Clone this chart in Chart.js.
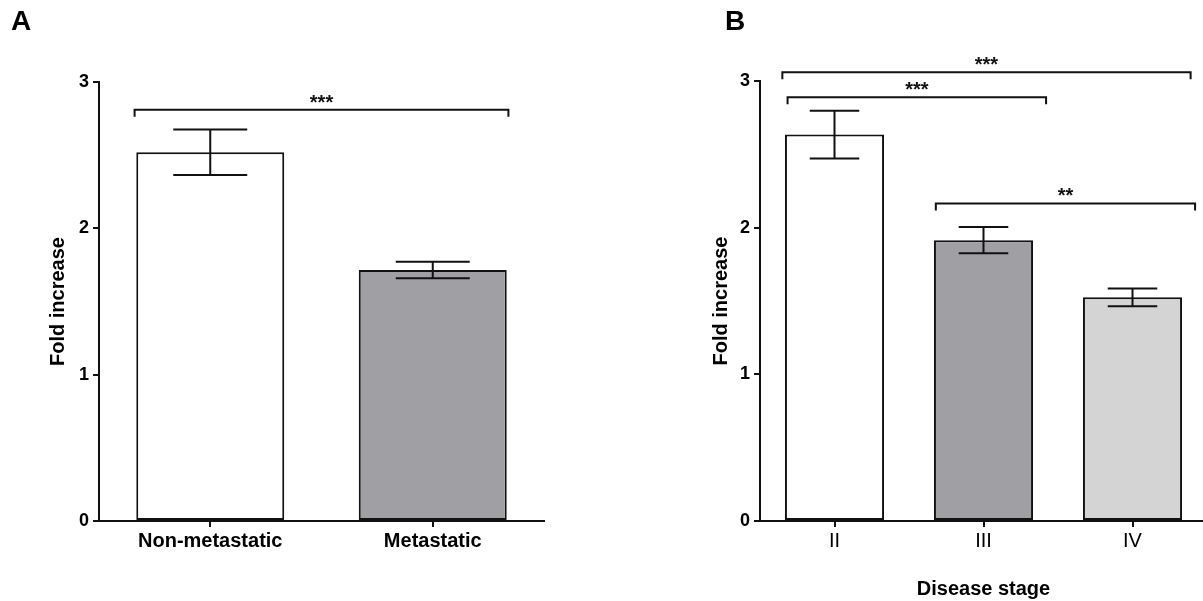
<!DOCTYPE html>
<html>
<head>
<meta charset="utf-8">
<script src="https://cdn.jsdelivr.net/npm/chart.js@4.4.1/dist/chart.umd.min.js"></script>
<style>
html, body { margin: 0; padding: 0; width: 1203px; height: 601px; overflow: hidden; background: #fff; }
canvas { position: absolute; top: 0; }
.letter { position: absolute; z-index: 2; font: bold 28px "Liberation Sans", Arial, sans-serif; line-height: 28px; color: #000; }
</style>
</head>
<body>
<canvas id="chartA" width="600" height="601" style="left:0"></canvas>
<canvas id="chartB" width="607" height="601" style="left:600px"></canvas>
<div class="letter" style="left:11px;top:7px">A</div>
<div class="letter" style="left:725px;top:7px">B</div>
<script>
// panel A: metastasis status
var labelsA = ['Non-metastatic', 'Metastatic'];
var meansA = [2.52, 1.715];
var semA = [0.155, 0.056];
var colorsA = ['#ffffff', '#a09fa4'];
// [from category, to category, y value, stars]
var bracketsA = [[-0.34, 1.34, 2.81, '***']];

// panel B: disease stage
var labelsB = ['II', 'III', 'IV'];
var meansB = [2.635, 1.915, 1.525];
var semB = [0.163, 0.09, 0.06];
var colorsB = ['#ffffff', '#a09fa4', '#d4d4d4'];
var bracketsB = [
    [-0.35, 2.39, 3.06, '***'],
    [-0.315, 1.42, 2.89, '***'],
    [0.68, 2.42, 2.165, '**']
];

var INK = '#111111';
var FONT = '"Liberation Sans", Arial, sans-serif';

function sigPlugin(sem, brackets) {
    return {
        id: 'sigMarks',
        afterDatasetsDraw: function (chart) {
            var ctx = chart.ctx;
            var xs = chart.scales.x, ys = chart.scales.y;
            var bars = chart.getDatasetMeta(0).data;
            var means = chart.data.datasets[0].data;
            ctx.save();
            ctx.strokeStyle = INK;
            ctx.fillStyle = INK;
            ctx.lineWidth = 2;
            // error bars
            sem.forEach(function (s, i) {
                var bar = bars[i];
                var cap = bar.width / 4;
                var top = ys.getPixelForValue(means[i] + s);
                var bot = ys.getPixelForValue(means[i] - s);
                ctx.beginPath();
                ctx.moveTo(bar.x, top); ctx.lineTo(bar.x, bot);
                ctx.moveTo(bar.x - cap, top); ctx.lineTo(bar.x + cap, top);
                ctx.moveTo(bar.x - cap, bot); ctx.lineTo(bar.x + cap, bot);
                ctx.stroke();
            });
            // significance brackets
            ctx.font = 'bold 20px ' + FONT;
            ctx.textAlign = 'center';
            ctx.textBaseline = 'alphabetic';
            brackets.forEach(function (b) {
                var x1 = xs.getPixelForValue(b[0]);
                var x2 = xs.getPixelForValue(b[1]);
                var yy = ys.getPixelForValue(b[2]);
                ctx.beginPath();
                ctx.moveTo(x1, yy + 7); ctx.lineTo(x1, yy);
                ctx.lineTo(x2, yy); ctx.lineTo(x2, yy + 7);
                ctx.stroke();
                ctx.fillText(b[3], (x1 + x2) / 2, yy - 1);
            });
            ctx.restore();
        }
    };
}

function buildChart(id, labels, means, sem, colors, brackets, o) {
    var xScale = {
        offset: true,
        grid: { offset: false, drawOnChartArea: false, drawTicks: true, tickLength: 6, lineWidth: 2, color: INK },
        border: { display: true, width: 2, color: INK },
        ticks: { color: '#000', padding: 2, font: { family: FONT, size: 20, weight: o.xBold ? 'bold' : 'normal' } },
        afterFit: function (scale) { scale.height = 80; }
    };
    if (o.xTitle) {
        xScale.title = { display: true, text: o.xTitle, color: '#000', padding: { top: 0, bottom: 0 },
            font: { family: FONT, size: 20, weight: 'bold' } };
    }
    return new Chart(document.getElementById(id), {
        type: 'bar',
        data: {
            labels: labels,
            datasets: [{
                data: means,
                backgroundColor: colors,
                borderColor: INK,
                borderWidth: 2,
                borderSkipped: false,
                categoryPercentage: 1,
                barPercentage: 0.665
            }]
        },
        options: {
            responsive: false,
            animation: false,
            layout: { padding: { top: o.top, right: o.right, left: 0, bottom: 0 } },
            plugins: { legend: { display: false }, tooltip: { enabled: false } },
            scales: {
                x: xScale,
                y: {
                    min: 0,
                    max: 3,
                    grid: { drawOnChartArea: false, drawTicks: true, tickLength: 6, lineWidth: 2, color: INK },
                    border: { display: true, width: 2, color: INK },
                    ticks: { stepSize: 1, color: '#000', padding: 4, font: { family: FONT, size: 18, weight: 'bold' } },
                    title: { display: true, text: 'Fold increase', color: '#000', padding: { top: o.titlePad, bottom: 0 },
                        font: { family: FONT, size: 20, weight: 'bold' } },
                    afterFit: function (scale) { scale.width = o.axisLeft; }
                }
            }
        },
        plugins: [sigPlugin(sem, brackets)]
    });
}

buildChart('chartA', labelsA, meansA, semA, colorsA, bracketsA,
    { top: 82, right: 56, axisLeft: 99, titlePad: 46, xBold: true });
buildChart('chartB', labelsB, meansB, semB, colorsB, bracketsB,
    { top: 81, right: 0, axisLeft: 160, titlePad: 109, xBold: false, xTitle: 'Disease stage' });
</script>
</body>
</html>
